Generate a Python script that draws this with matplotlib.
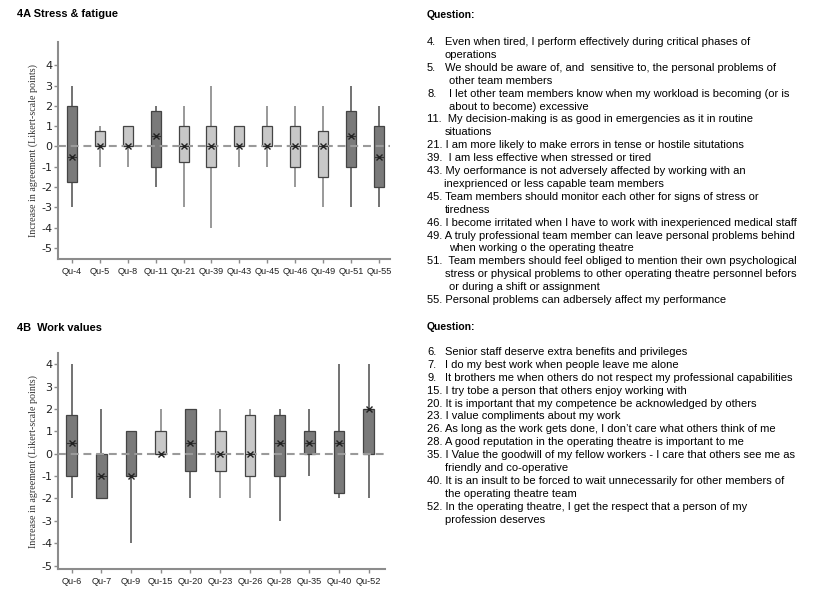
import matplotlib
matplotlib.use("Agg")
import matplotlib.pyplot as plt

# ---------------- data ----------------
cats_a = ["Qu-4", "Qu-5", "Qu-8", "Qu-11", "Qu-21", "Qu-39", "Qu-43", "Qu-45",
          "Qu-46", "Qu-49", "Qu-51", "Qu-55"]
low_a = [-3, -1, -1, -2, -3, -4, -1, -1, -2, -3, -3, -3]
q1_a = [-1.75, 0, 0, -1, -0.75, -1, 0, 0, -1, -1.5, -1, -2]
mid_a = [-0.5, 0, 0, 0.5, 0, 0, 0, 0, 0, 0, 0.5, -0.5]
q3_a = [2, 0.75, 1, 1.75, 1, 1, 1, 1, 1, 0.75, 1.75, 1]
high_a = [3, 1, 1, 2, 2, 3, 1, 2, 2, 2, 3, 2]
dark_a = [True, False, False, True, False, False, False, False, False, False, True, True]

cats_b = ["Qu-6", "Qu-7", "Qu-9", "Qu-15", "Qu-20", "Qu-23", "Qu-26", "Qu-28",
          "Qu-35", "Qu-40", "Qu-52"]
low_b = [-2, -2, -4, 0, -2, -2, -2, -3, -1, -2, -2]
q1_b = [-1, -2, -1, 0, -0.75, -0.75, -1, -1, 0, -1.75, 0]
mid_b = [0.5, -1, -1, 0, 0.5, 0, 0, 0.5, 0.5, 0.5, 2]
q3_b = [1.75, 0, 1, 1, 2, 1, 1.75, 1.75, 1, 1, 2]
high_b = [4, 2, 1, 2, 2, 2, 2, 2, 2, 4, 4]
dark_b = [True, True, True, False, True, False, False, True, True, True, True]

yticks = [-5, -4, -3, -2, -1, 0, 1, 2, 3, 4]

# (number, text, x of text in px; None = directly after the number)
questions_a = [
    ("4.", "Even when tired, I perform effectively during critical phases of", 445),
    ("", "operations", 445),
    ("5.", "We should be aware of, and  sensitive to, the personal problems of", 445),
    ("", "other team members", 449),
    ("8.", "I let other team members know when my workload is becoming (or is", 449),
    ("", "about to become) excessive", 449),
    ("11.", " My decision-making is as good in emergencies as it in routine", None),
    ("", "situations", 445),
    ("21.", "I am more likely to make errors in tense or hostile situtations", None),
    ("39.", " I am less effective when stressed or tired", None),
    ("43.", "My oerformance is not adversely affected by working with an", None),
    ("", "inexprienced or less capable team members", 444),
    ("45.", "Team members should monitor each other for signs of stress or", None),
    ("", "tiredness", 445),
    ("46.", "I become irritated when I have to work with inexperienced medical staff", None),
    ("49.", "A truly professional team member can leave personal problems behind", None),
    ("", "when working o the operating theatre", 449),
    ("51.", " Team members should feel obliged to mention their own psychological", None),
    ("", "stress or physical problems to other operating theatre personnel befors", 445),
    ("", "or during a shift or assignment", 449),
    ("55.", "Personal problems can adbersely affect my performance", None),
]

questions_b = [
    ("6.", "Senior staff deserve extra benefits and privileges", 445),
    ("7.", "I do my best work when people leave me alone", 445),
    ("9.", "It brothers me when others do not respect my professional capabilities", 445),
    ("15.", "I try tobe a person that others enjoy working with", None),
    ("20.", "It is important that my competence be acknowledged by others", None),
    ("23.", "I value compliments about my work", None),
    ("26.", "As long as the work gets done, I don\u2019t care what others think of me", None),
    ("28.", "A good reputation in the operating theatre is important to me", None),
    ("35.", "I Value the goodwill of my fellow workers - I care that others see me as", None),
    ("", "friendly and co-operative", 445),
    ("40.", "It is an insult to be forced to wait unnecessarily for other members of", None),
    ("", "the operating theatre team", 445),
    ("52.", "In the operating theatre, I get the respect that a person of my", None),
    ("", "profession deserves", 445),
]

# ---------------- figure ----------------
W, H = 819, 596
fig = plt.figure(figsize=(W / 100, H / 100), dpi=100)
fig.patch.set_facecolor("white")

AXC = "#8c8c8c"
DARK_FILL = "#7a7a7a"
LIGHT_FILL = "#c8c8c8"
EDGE = "#444444"
TXT = "Liberation Sans"


def px_ax(l, t, r, b):
    return fig.add_axes([l / W, 1 - b / H, (r - l) / W, (b - t) / H])


def draw_panel(ax, cats, low, q1, mid, q3, high, dark, ylim, xlim):
    bw = 0.36
    for i in range(len(cats)):
        wc = "#5a5a5a" if dark[i] else "#888888"
        ax.plot([i, i], [low[i], q1[i]], color=wc, lw=1.2, zorder=2, solid_capstyle="butt")
        ax.plot([i, i], [q3[i], high[i]], color=wc, lw=1.2, zorder=2, solid_capstyle="butt")
        fc = DARK_FILL if dark[i] else LIGHT_FILL
        ax.bar(i, q3[i] - q1[i], bottom=q1[i], width=bw, color=fc,
               edgecolor=EDGE, linewidth=0.9, zorder=3)
    ax.axhline(0, color="#9a9a9a", lw=1.5, ls=(0, (3.8, 2.3)), zorder=4)
    for i in range(len(cats)):
        ax.plot([i - bw * 0.4, i + bw * 0.4], [mid[i], mid[i]], color="#333333", lw=0.8, zorder=5)
        ax.plot(i, mid[i], marker="x", ms=5, mew=1.0, color="#222222", zorder=6)
    ax.set_xlim(*xlim)
    ax.set_ylim(*ylim)
    ax.set_xticks(range(len(cats)))
    ax.set_xticklabels(cats, family=TXT, fontsize=6.6)
    ax.set_yticks(yticks)
    ax.set_yticklabels([str(v) for v in yticks], fontsize=8)
    for s in ["top", "right"]:
        ax.spines[s].set_visible(False)
    for s in ["left", "bottom"]:
        ax.spines[s].set_color(AXC)
        ax.spines[s].set_linewidth(1.5)
    ax.tick_params(axis="both", colors=AXC, length=3, width=1, labelcolor="#222222")
    ax.tick_params(axis="x", pad=3)
    ax.tick_params(axis="y", pad=1)
    ax.set_ylabel("Increase in agreement (Likert-scale points)",
                  family="Liberation Serif", fontsize=7.2, color="#333333")
    ax.yaxis.set_label_coords(-0.06, 0.5)


ax1 = px_ax(58, 42, 390, 259)
draw_panel(ax1, cats_a, low_a, q1_a, mid_a, q3_a, high_a, dark_a,
           (-5.55, 5.15), (-0.5, 11.4))

ax2 = px_ax(58, 353, 385, 569)
draw_panel(ax2, cats_b, low_b, q1_b, mid_b, q3_b, high_b, dark_b,
           (-5.15, 4.5), (-0.46, 10.55))

# titles
fig.text(17 / W, 1 - 14 / H, "4A Stress & fatigue", family=TXT,
         fontweight="bold", fontsize=7.9, va="center", ha="left")
fig.text(17 / W, 1 - 328 / H, "4B  Work values", family=TXT,
         fontweight="bold", fontsize=7.9, va="center", ha="left")


def draw_questions(items, y0, head_y, dy):
    fig.text(427 / W, 1 - head_y / H, "Question:", family=TXT,
             fontweight="bold", fontsize=7.5, va="center", ha="left")
    y = y0
    for num, txt, x in items:
        if x is None:
            fig.text(427 / W, 1 - y / H, num + " " + txt, family=TXT,
                     fontsize=8, va="center", ha="left")
        else:
            if num:
                fig.text(427 / W, 1 - y / H, num, family=TXT,
                         fontsize=8, va="center", ha="left")
            fig.text(x / W, 1 - y / H, txt, family=TXT,
                     fontsize=8, va="center", ha="left")
        y += dy


draw_questions(questions_a, 42, 15, 12.9)
draw_questions(questions_b, 352, 327, 12.9)

fig.savefig("out.png", dpi=100, facecolor="white")
